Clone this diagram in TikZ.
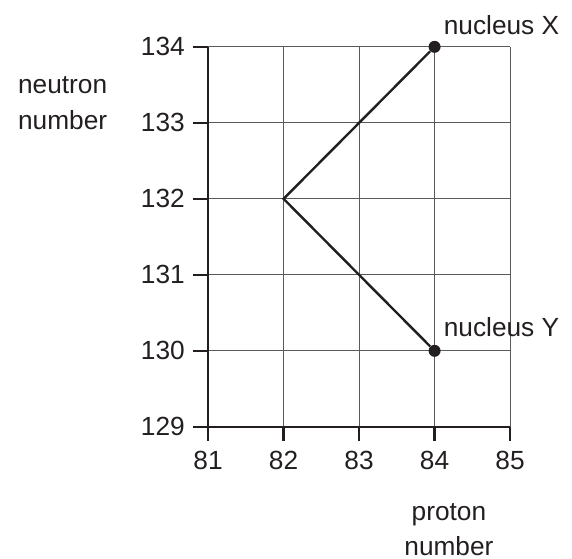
\documentclass[tikz,border=0pt]{standalone}
\usepackage{fontspec}
\setmainfont{Liberation Sans}
\usepackage{xcolor}
\definecolor{ink}{HTML}{231f20}
\definecolor{gridc}{HTML}{5a5a5a}

\begin{document}
\begin{tikzpicture}[x=56.625pt,y=57pt,
    axis/.style={ink,line width=2pt},
    gridline/.style={gridc,line width=0.8pt},
    decay/.style={ink,line width=1.8pt},
    dot/.style={circle,fill=ink,inner sep=0pt,minimum size=9pt},
    lbl/.style={ink,font=\fontsize{19.7}{26.6}\selectfont,inner sep=0pt}]
  % Frame of the picture
  \useasboundingbox (78.245,127.263) rectangle (85.821,134.618);

  % Grid
  \foreach \x in {82,83,84,85} {
    \draw[gridline] (\x,129) -- (\x,134);
  }
  \foreach \y in {130,131,132,133,134} {
    \draw[gridline] (81,\y) -- (85,\y);
  }

  % Axes with ticks and numbers
  \draw[axis] (81,134) -- (81,129) -- (85,129);
  \foreach \y in {129,...,134} {
    \draw[axis] (80.8,\y) -- (81,\y);
    \node[lbl,anchor=east] (n\y) at (80.695,\y) {\y};
  }
  \foreach \x in {81,...,85} {
    \draw[axis] (\x,129) -- (\x,128.81);
    \node[lbl,anchor=north] (p\x) at (\x,128.684) {\x};
  }

  % Axis titles
  \node[lbl,align=center] (ytitle) at (79.073,133.257) {neutron\\number};
  \node[lbl,align=center] (xtitle) at (84.19,127.645) {proton\\number};

  % Decay path X -> Y
  \node[dot] (X) at (84,134) {};
  \coordinate (P) at (82,132);
  \node[dot] (Y) at (84,130) {};
  \draw[decay] (X) -- (P) -- (Y);

  \node[lbl,anchor=base west] (lblX) at ([xshift=6.75pt,yshift=9pt]X.center) {nucleus X};
  \node[lbl,anchor=base west] (lblY) at ([xshift=6.75pt,yshift=10.5pt]Y.center) {nucleus Y};
\end{tikzpicture}
\end{document}
